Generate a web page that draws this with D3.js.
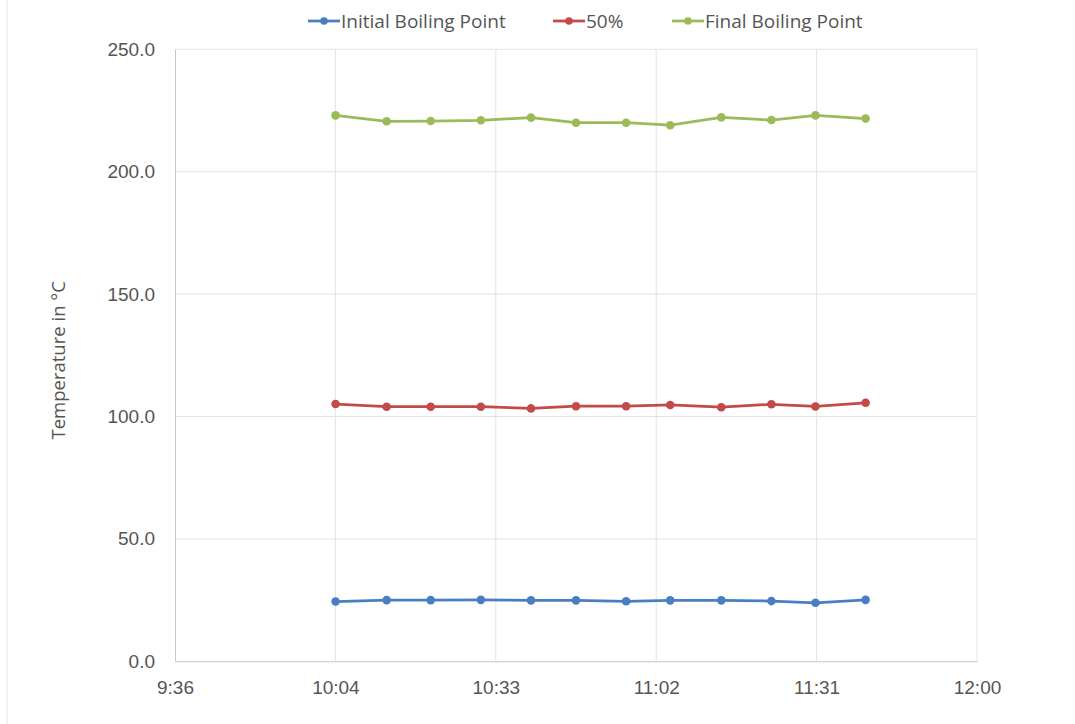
<!DOCTYPE html>
<html>
<head>
<meta charset="utf-8">
<script src="https://cdn.jsdelivr.net/npm/d3@7"></script>
<style>
  html, body { margin: 0; padding: 0; background: #fff; }
  svg { display: block; font-family: "Open Sans", "Noto Sans", sans-serif; }
</style>
</head>
<body>
<svg id="chart" width="1075" height="724"></svg>
<script>
// ---- data ----
const times = ["10:04:50","10:14:00","10:21:55","10:30:55","10:39:55","10:48:00","10:57:00","11:04:55","11:14:05","11:23:05","11:31:00","11:40:00"];
const initialBP = [24.4, 25.0, 25.0, 25.1, 24.9, 24.9, 24.5, 24.9, 24.9, 24.6, 23.9, 25.1];
const fifty     = [105.1, 104.0, 104.0, 104.0, 103.3, 104.2, 104.2, 104.7, 103.8, 105.0, 104.1, 105.6];
const finalBP   = [223.0, 220.6, 220.7, 221.0, 222.1, 220.0, 220.0, 219.0, 222.2, 221.1, 223.0, 221.7];
const seriesNames = ["Initial Boiling Point", "50%", "Final Boiling Point"];
const xTicks = ["09:36:00","10:04:48","10:33:36","11:02:24","11:31:12","12:00:00"];
const yTicks = [0, 50, 100, 150, 200, 250];
const yTitle = "Temperature in °C";

const colors = ["#4a7ec2", "#c34a48", "#9bbb59"];
const textColor = "#555555";
const parse = d3.timeParse("%H:%M:%S");

const svg = d3.select("#chart");
const m = { left: 175, right: 977, top: 49.3, bottom: 661.3 };

const x = d3.scaleTime()
  .domain([parse(xTicks[0]), parse(xTicks[xTicks.length - 1])])
  .range([m.left, m.right]);
const y = d3.scaleLinear().domain([0, 250]).range([m.bottom, m.top]);

// chart frame (faint left border)
svg.append("line").attr("x1", 7).attr("x2", 7).attr("y1", 0).attr("y2", 724)
  .attr("stroke", "#e6e6e6").attr("stroke-width", 1);

// gridlines
const g = svg.append("g");
g.selectAll(".hgrid").data(yTicks.filter(d => d > 0)).join("line")
  .attr("x1", m.left).attr("x2", m.right)
  .attr("y1", d => y(d)).attr("y2", d => y(d))
  .attr("stroke", "#e3e3e3").attr("stroke-width", 1);
g.selectAll(".vgrid").data(xTicks.slice(1)).join("line")
  .attr("x1", d => x(parse(d))).attr("x2", d => x(parse(d)))
  .attr("y1", m.top).attr("y2", m.bottom)
  .attr("stroke", "#e3e3e3").attr("stroke-width", 1);

// axes
const yAxis = svg.append("g").attr("transform", `translate(${m.left},0)`)
  .call(d3.axisLeft(y).tickValues(yTicks).tickFormat(d3.format(".1f")).tickSize(0).tickPadding(20));
yAxis.select(".domain").attr("stroke", "#c8c8c8");
yAxis.selectAll("text").attr("fill", textColor).style("font-size", "19px");

const xAxis = svg.append("g").attr("transform", `translate(0,${m.bottom})`)
  .call(d3.axisBottom(x).tickValues(xTicks.map(parse)).tickFormat(d3.timeFormat("%-H:%M")).tickSize(0).tickPadding(19));
xAxis.select(".domain").attr("stroke", "#c8c8c8");
xAxis.selectAll("text").attr("fill", textColor).style("font-size", "19px");

// y title
svg.append("text")
  .attr("transform", `translate(65,${(m.top + m.bottom) / 2 + 5}) rotate(-90)`)
  .attr("text-anchor", "middle")
  .attr("fill", textColor)
  .style("font-size", "18.5px")
  .text(yTitle);

// series
const all = [initialBP, fifty, finalBP];
const line = d3.line().x((d, i) => x(parse(times[i]))).y(d => y(d));
all.forEach((vals, si) => {
  svg.append("path").datum(vals)
    .attr("d", line)
    .attr("fill", "none")
    .attr("stroke", colors[si])
    .attr("stroke-width", 2.75)
    .attr("stroke-linejoin", "round");
  svg.append("g").selectAll("circle").data(vals).join("circle")
    .attr("cx", (d, i) => x(parse(times[i])))
    .attr("cy", d => y(d))
    .attr("r", 4.3)
    .attr("fill", colors[si]);
});

// legend
const legendX = [308, 553, 672];
const lg = svg.append("g");
seriesNames.forEach((name, i) => {
  const lx = legendX[i], ly = 21;
  lg.append("line").attr("x1", lx).attr("x2", lx + 32).attr("y1", ly).attr("y2", ly)
    .attr("stroke", colors[i]).attr("stroke-width", 2.75);
  lg.append("circle").attr("cx", lx + 16).attr("cy", ly).attr("r", 3.8).attr("fill", colors[i]);
  lg.append("text").attr("x", lx + 33).attr("y", ly + 7)
    .attr("fill", textColor).style("font-size", "19px").text(name);
});
</script>
</body>
</html>
